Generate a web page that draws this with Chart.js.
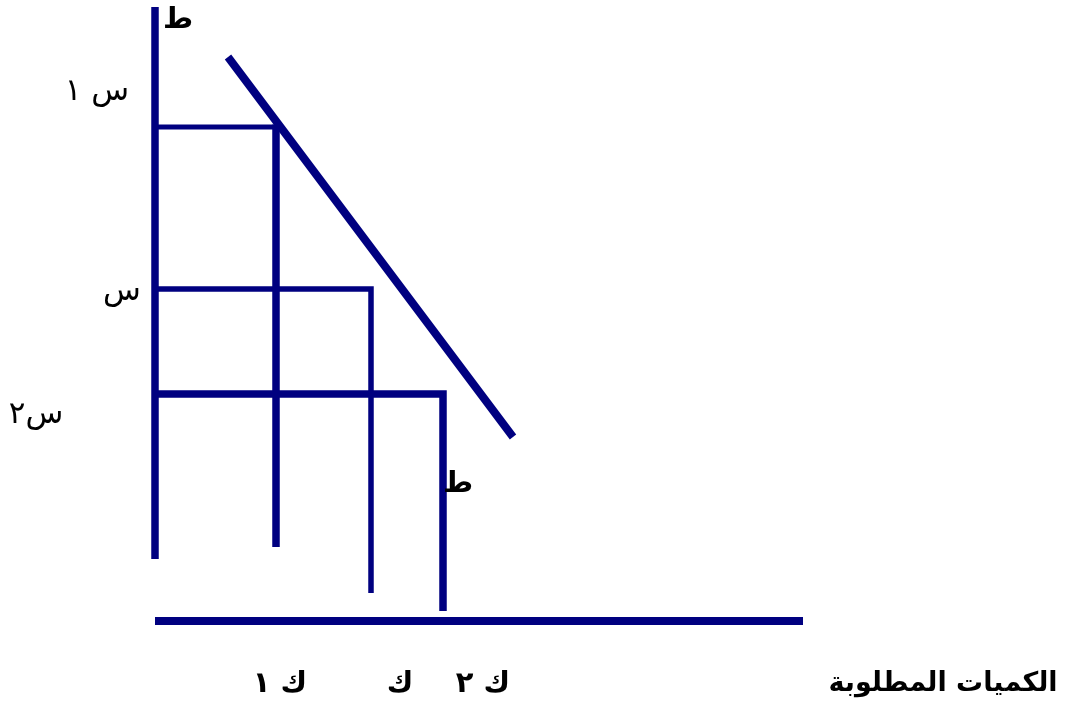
<!DOCTYPE html>
<html lang="ar">
<head>
<meta charset="utf-8">
<title>منحنى الطلب</title>
<script src="https://cdn.jsdelivr.net/npm/chart.js@4.4.1/dist/chart.umd.min.js"></script>
<style>
    html, body { margin: 0; padding: 0; background: #fff; }
    #wrap { width: 1065px; height: 704px; }
</style>
</head>
<body>
<div id="wrap"><canvas id="demand" width="1065" height="704"></canvas></div>
<script>
// quantity (x) and price (y) in chart units; origin where the two axes would meet
var priceAxis = [{ x: 0, y: 6.2 }, { x: 0, y: 61.4 }];
var quantityAxis = [{ x: 0, y: 0 }, { x: 64.8, y: 0 }];
var demandCurve = [{ x: 7.3, y: 56.4 }, { x: 35.8, y: 18.4 }];

// price levels  س١ , س , س٢  and quantities  ك١ , ك , ك٢
var priceLevels = [49.4, 33.2, 22.7];
var quantityLevels = [12.1, 21.6, 28.8];
var dropEnds = [7.4, 2.8, 1.0];

var labelTexts = ['ط', 'س ١', 'س', 'س٢', 'ط', 'ك ١', 'ك', 'ك ٢', 'الكميات المطلوبة'];
var labelX = [2.3, -5.8, -3.3, -11.9, 30.3, 12.5, 24.5, 32.8, 78.8];
var labelY = [60.1, 52.9, 32.9, 20.6, 13.7, -6.3, -6.3, -6.3, -6.3];
var labelBold = [true, false, false, false, true, true, true, true, true];

(function () {
    'use strict';

    var navy = '#000080';

    function seg(data, width) {
        return {
            data: data,
            showLine: true,
            borderColor: navy,
            borderWidth: width,
            pointRadius: 0,
            borderCapStyle: 'butt',
            borderJoinStyle: 'miter',
            tension: 0,
        };
    }

    var datasets = [
        seg(priceAxis, 7.5),
        seg(quantityAxis, 8),
        seg(demandCurve, 8),
        // ك١ : horizontal from س١ then drop
        seg([{ x: 0, y: priceLevels[0] }, { x: quantityLevels[0], y: priceLevels[0] }], 5),
        seg([{ x: quantityLevels[0], y: priceLevels[0] + 0.25 }, { x: quantityLevels[0], y: dropEnds[0] }], 7.5),
        seg([{ x: 0, y: priceLevels[1] }, { x: quantityLevels[1], y: priceLevels[1] }, { x: quantityLevels[1], y: dropEnds[1] }], 5.5),
        seg([{ x: 0, y: priceLevels[2] }, { x: quantityLevels[2], y: priceLevels[2] }, { x: quantityLevels[2], y: dropEnds[2] }], 7.5),
    ];

    var labelPlugin = {
        id: 'arabicLabels',
        afterDatasetsDraw: function (chart) {
            var ctx = chart.ctx;
            var xs = chart.scales.x;
            var ys = chart.scales.y;
            ctx.save();
            ctx.fillStyle = '#000';
            ctx.textAlign = 'center';
            ctx.textBaseline = 'middle';
            ctx.direction = 'rtl';
            labelTexts.forEach(function (t, i) {
                ctx.font = labelBold[i] ? 'bold 29px "DejaVu Sans", sans-serif' : '31px "DejaVu Sans", sans-serif';
                if (i === 8) ctx.font = 'bold 27px "DejaVu Sans", sans-serif';
                ctx.fillText(t, xs.getPixelForValue(labelX[i]), ys.getPixelForValue(labelY[i]));
            });
            ctx.restore();
        },
    };

    new Chart(document.getElementById('demand'), {
        type: 'scatter',
        data: { datasets: datasets },
        options: {
            responsive: false,
            animation: false,
            layout: { padding: 0 },
            plugins: {
                legend: { display: false },
                tooltip: { enabled: false },
            },
            scales: {
                x: { type: 'linear', display: false, min: -15.5, max: 91.0 },
                y: { type: 'linear', display: false, min: -8.3, max: 62.1 },
            },
        },
        plugins: [labelPlugin],
    });
})();
</script>
</body>
</html>
